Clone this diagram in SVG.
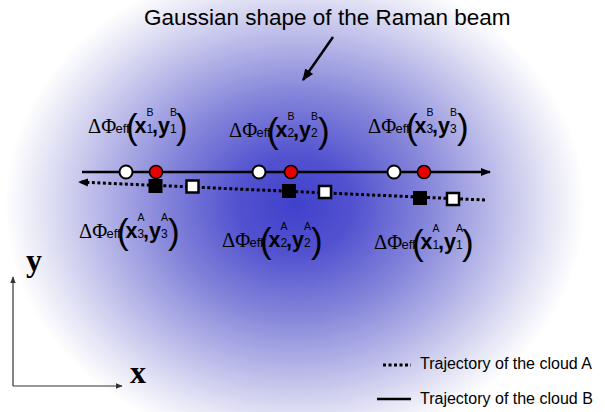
<svg xmlns="http://www.w3.org/2000/svg" width="605" height="412" viewBox="0 0 605 412">
<defs>
<radialGradient id="beam" gradientUnits="userSpaceOnUse" cx="0" cy="0" r="1" gradientTransform="translate(295,205) scale(290,245)">
<stop offset="0" stop-color="#4040cc"/>
<stop offset="0.2" stop-color="#5252d0"/>
<stop offset="0.45" stop-color="#8484da"/>
<stop offset="0.7" stop-color="#bdbdea"/>
<stop offset="0.88" stop-color="#e6e6f6"/>
<stop offset="1" stop-color="#ffffff"/>
</radialGradient>
<marker id="ah" viewBox="0 0 10 10" refX="9" refY="5" markerWidth="10" markerHeight="10" markerUnits="userSpaceOnUse" orient="auto">
<path d="M0,1 L10,5 L0,9 Z" fill="#000"/>
</marker>
<marker id="ahs" viewBox="0 0 10 10" refX="9" refY="5" markerWidth="7" markerHeight="7" markerUnits="userSpaceOnUse" orient="auto">
<path d="M0,1 L10,5 L0,9 Z" fill="#333"/>
</marker>
<marker id="ahb" viewBox="0 0 10 10" refX="9" refY="5" markerWidth="12" markerHeight="12" markerUnits="userSpaceOnUse" orient="auto">
<path d="M0,1 L10,5 L0,9 Z" fill="#000"/>
</marker>
</defs>
<style>
text{fill:#000}
.title{font-family:"Liberation Sans",Arial,sans-serif;font-size:22.5px}
.leg{font-family:"Liberation Sans",Arial,sans-serif;font-size:16px}
.ax{font-family:"Liberation Serif","Times New Roman",serif;font-size:32px;font-weight:bold}
.lab{font-family:"Liberation Sans",Arial,sans-serif;font-size:21px}
.phi{font-family:"Liberation Serif","Times New Roman",serif;font-size:20.5px}
.eff{font-size:13px}
.par{font-size:35px}
.v{font-size:21.5px;font-weight:bold}
.sub{font-size:12px}
.sup{font-size:10.5px}
.ob{fill:#fff;stroke:#000;stroke-width:2}
.rb{fill:#e60000;stroke:#000;stroke-width:1.5}
.sqf{fill:#000;stroke:#000;stroke-width:1}
.sqw{fill:#fff;stroke:#000;stroke-width:2.5}
.solid{stroke:#000;stroke-width:2.5;fill:none}
.dot{stroke:#000;stroke-width:3;stroke-dasharray:3 2.5;fill:none}
.axis{stroke:#333;stroke-width:1.2;fill:none}
</style>
<rect x="0" y="0" width="605" height="412" fill="#fff"/>
<rect x="0" y="0" width="605" height="412" fill="url(#beam)"/>

<g id="title">
<text class="title" x="144" y="25">Gaussian shape of the Raman beam</text>
</g>

<g id="connectors">
<line x1="333" y1="37" x2="303" y2="80" stroke="#000" stroke-width="2.5" marker-end="url(#ahb)"/>
<line class="solid" x1="82" y1="172" x2="490" y2="172" marker-end="url(#ah)"/>
<line class="dot" x1="485" y1="200" x2="79" y2="182" marker-end="url(#ah)"/>
<line class="axis" x1="13" y1="386" x2="13" y2="277" marker-end="url(#ahs)"/>
<line class="axis" x1="13" y1="386" x2="122" y2="386" marker-end="url(#ahs)"/>
</g>

<g id="cloudB">
<circle class="ob" cx="126" cy="172" r="6.5"/>
<circle class="rb" cx="156" cy="172" r="6.5"/>
<circle class="ob" cx="259" cy="172" r="6.5"/>
<circle class="rb" cx="291" cy="172" r="6.5"/>
<circle class="ob" cx="394" cy="172" r="6.5"/>
<circle class="rb" cx="424" cy="172" r="6.5"/>
</g>

<g id="cloudA">
<rect class="sqf" x="149" y="179.5" width="13" height="13"/>
<rect class="sqw" x="186.5" y="180.5" width="12" height="12"/>
<rect class="sqf" x="282.5" y="184.5" width="13" height="13"/>
<rect class="sqw" x="319" y="186" width="12" height="12"/>
<rect class="sqf" x="413.5" y="191.5" width="13" height="13"/>
<rect class="sqw" x="447" y="193" width="12" height="12"/>
</g>

<g id="label-B1" transform="translate(88,133)">
<text class="lab"><tspan class="phi" x="0" y="0">ΔΦ</tspan><tspan class="eff" x="27.5" y="0">eff</tspan><tspan class="par" x="38" y="6">(</tspan><tspan class="v" x="46.5" y="0">x</tspan><tspan class="sup" x="58.5" y="-17">B</tspan><tspan class="sub" x="58.5" y="0">1</tspan><tspan class="v" x="64" y="0">,</tspan><tspan class="v" x="70" y="0">y</tspan><tspan class="sup" x="82" y="-17">B</tspan><tspan class="sub" x="82" y="0">1</tspan><tspan class="par" x="88" y="6">)</tspan></text>
</g>
<g id="label-B2" transform="translate(229,137)">
<text class="lab"><tspan class="phi" x="0" y="0">ΔΦ</tspan><tspan class="eff" x="27.5" y="0">eff</tspan><tspan class="par" x="38" y="6">(</tspan><tspan class="v" x="46.5" y="0">x</tspan><tspan class="sup" x="58.5" y="-17">B</tspan><tspan class="sub" x="58.5" y="0">2</tspan><tspan class="v" x="64" y="0">,</tspan><tspan class="v" x="70" y="0">y</tspan><tspan class="sup" x="82" y="-17">B</tspan><tspan class="sub" x="82" y="0">2</tspan><tspan class="par" x="89" y="6">)</tspan></text>
</g>
<g id="label-B3" transform="translate(368,133)">
<text class="lab"><tspan class="phi" x="0" y="0">ΔΦ</tspan><tspan class="eff" x="27.5" y="0">eff</tspan><tspan class="par" x="38" y="6">(</tspan><tspan class="v" x="46.5" y="0">x</tspan><tspan class="sup" x="58.5" y="-17">B</tspan><tspan class="sub" x="58.5" y="0">3</tspan><tspan class="v" x="64" y="0">,</tspan><tspan class="v" x="70" y="0">y</tspan><tspan class="sup" x="82" y="-17">B</tspan><tspan class="sub" x="82" y="0">3</tspan><tspan class="par" x="89" y="6">)</tspan></text>
</g>
<g id="label-A3" transform="translate(79,238)">
<text class="lab"><tspan class="phi" x="0" y="0">ΔΦ</tspan><tspan class="eff" x="27.5" y="0">eff</tspan><tspan class="par" x="38" y="6">(</tspan><tspan class="v" x="46.5" y="0">x</tspan><tspan class="sup" x="58.5" y="-17">A</tspan><tspan class="sub" x="58.5" y="0">3</tspan><tspan class="v" x="64" y="0">,</tspan><tspan class="v" x="70" y="0">y</tspan><tspan class="sup" x="82" y="-17">A</tspan><tspan class="sub" x="82" y="0">3</tspan><tspan class="par" x="89" y="6">)</tspan></text>
</g>
<g id="label-A2" transform="translate(222,247)">
<text class="lab"><tspan class="phi" x="0" y="0">ΔΦ</tspan><tspan class="eff" x="27.5" y="0">eff</tspan><tspan class="par" x="38" y="6">(</tspan><tspan class="v" x="46.5" y="0">x</tspan><tspan class="sup" x="58.5" y="-17">A</tspan><tspan class="sub" x="58.5" y="0">2</tspan><tspan class="v" x="64" y="0">,</tspan><tspan class="v" x="70" y="0">y</tspan><tspan class="sup" x="82" y="-17">A</tspan><tspan class="sub" x="82" y="0">2</tspan><tspan class="par" x="89" y="6">)</tspan></text>
</g>
<g id="label-A1" transform="translate(374,249)">
<text class="lab"><tspan class="phi" x="0" y="0">ΔΦ</tspan><tspan class="eff" x="27.5" y="0">eff</tspan><tspan class="par" x="38" y="6">(</tspan><tspan class="v" x="46.5" y="0">x</tspan><tspan class="sup" x="58.5" y="-17">A</tspan><tspan class="sub" x="58.5" y="0">1</tspan><tspan class="v" x="64" y="0">,</tspan><tspan class="v" x="70" y="0">y</tspan><tspan class="sup" x="82" y="-17">A</tspan><tspan class="sub" x="82" y="0">1</tspan><tspan class="par" x="88" y="6">)</tspan></text>
</g>

<g id="axes-labels">
<text class="ax" x="26" y="271">y</text>
<text class="ax" x="130" y="383">x</text>
</g>

<g id="legend">
<line class="dot" x1="383" y1="365" x2="411" y2="365" stroke-width="2" stroke-dasharray="2 1.5"/>
<text class="leg" x="420" y="369">Trajectory of the cloud A</text>
<line class="solid" x1="377" y1="399" x2="411" y2="399" stroke-width="3"/>
<text class="leg" x="420" y="404">Trajectory of the cloud B</text>
</g>
</svg>
